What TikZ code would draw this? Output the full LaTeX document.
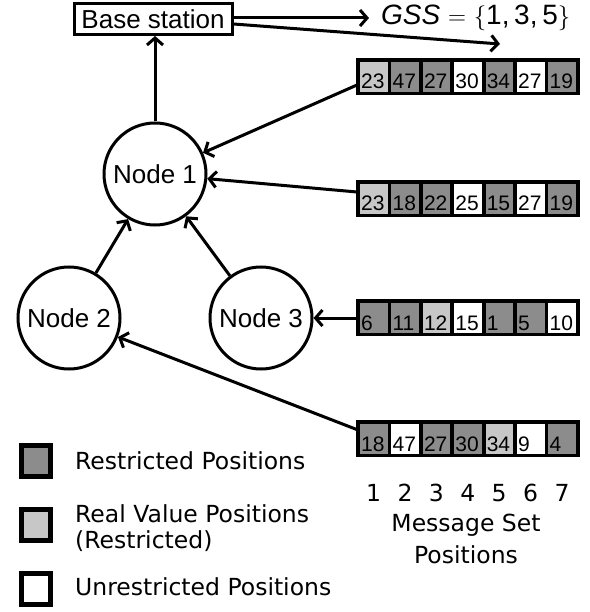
\documentclass[tikz,border=0pt]{standalone}
\usepackage{fontspec}
\setmainfont{Liberation Sans}
\newfontfamily\legendfont{DejaVu Sans}
\usetikzlibrary{arrows.meta}

\definecolor{cD}{gray}{0.55}
\definecolor{cL}{gray}{0.78}
\definecolor{cW}{gray}{1}

\tikzset{
  arr/.style={line width=3pt, -{Straight Barb[length=7pt,width=16pt]}},
  station/.style={circle, draw, line width=3pt, minimum size=102pt, inner sep=0pt,
    font=\fontsize{26}{30}\selectfont},
  basebox/.style={draw, line width=3pt, minimum width=158pt, minimum height=31pt,
    inner sep=0pt, font=\fontsize{26}{30}\selectfont},
  msgset/.style={fill=black, minimum width=224pt, minimum height=37pt, inner sep=0pt,
    anchor=north west},
  celltxt/.style={anchor=base west, inner sep=0pt, font=\fontsize{21}{24}\selectfont},
  legtxt/.style={anchor=west, inner sep=0pt, font=\legendfont\fontsize{23.5}{28}\selectfont},
  postxt/.style={inner sep=0pt, font=\legendfont\fontsize{23.5}{28}\selectfont},
  legbox/.style={draw=black, line width=5.5pt, minimum width=29pt, minimum height=31pt,
    inner sep=0pt}
}

% one message set: name, top edge, list of kind/value pairs
\newcommand{\msgrow}[3]{%
  \node[msgset] (#1) at (356,#2) {};
  \foreach \k/\v [count=\i from 0] in {#3} {
    \fill[fill=c\k] ({360+\i*31.4},{#2+4}) rectangle ++(27.6,30);
    \node[celltxt] (#1-\i) at ({361+\i*31.4},{#2+31}) {\v};
  }%
}

\begin{document}
\begin{tikzpicture}[x=1pt,y=-1pt]
  \useasboundingbox (0,0) rectangle (589,612);

  % base station and the global set
  \node[basebox] (base) at (153,19) {Base station};
  \coordinate (gssend) at (369,18);
  \node[anchor=west, inner sep=0pt, font=\fontsize{28}{32}\selectfont] (gss) at (381,18)
    {{\itshape GSS}\;$=$\;$\{$1,\,3,\,5$\}$};
  \coordinate (setend) at (500,44);

  % sensor nodes
  \node[station] (n1) at (155,174) {Node 1};
  \node[station] (n2) at (69,318) {Node 2};
  \node[station] (n3) at (261,318) {Node 3};

  % message sets
  \msgrow{ma}{58}{L/23,D/47,D/27,W/30,D/34,W/27,D/19}
  \msgrow{mb}{180}{L/23,D/18,D/22,W/25,D/15,W/27,D/19}
  \msgrow{mc}{299}{D/6,D/11,L/12,W/15,D/1,D/5,W/10}
  \msgrow{md}{420}{D/18,W/47,D/27,D/30,L/34,W/9,D/4}

  \coordinate (ma-out) at (357,85);
  \coordinate (mb-out) at (357,192);
  \coordinate (mc-out) at (357,318);
  \coordinate (md-out) at (358,430);

  % connectors
  \draw[arr] (n1) -- (n1 |- base.south);
  \draw[arr] (base.east |- gssend) -- (gssend);
  \draw[arr] (base.east |- 0,24) -- (setend);
  \draw[arr] (ma-out) -- (n1);
  \draw[arr] (mb-out) -- (n1);
  \draw[arr] (mc-out) -- (n3);
  \draw[arr] (md-out) -- (n2);
  \draw[arr] (n2) -- (n1);
  \draw[arr] (n3) -- (n1);

  % position numbers
  \foreach \i in {1,...,7} {
    \node[postxt] (pos\i) at ({373.6+(\i-1)*31.4},493) {\i};
  }
  \node[postxt] (poscap1) at (466,525) {Message Set};
  \node[postxt] (poscap2) at (466,555) {Positions};

  % legend
  \node[legbox, fill=cD] (lg1) at (36,461) {};
  \node[legbox, fill=cL] (lg2) at (36,525) {};
  \node[legbox, fill=cW] (lg3) at (36,589) {};
  \node[legtxt] (lt1) at (75,461) {Restricted Positions};
  \node[legtxt] (lt2) at (75,514) {Real Value Positions};
  \node[legtxt] (lt2b) at (75,541) {(Restricted)};
  \node[legtxt] (lt3) at (75,587) {Unrestricted Positions};
\end{tikzpicture}
\end{document}
